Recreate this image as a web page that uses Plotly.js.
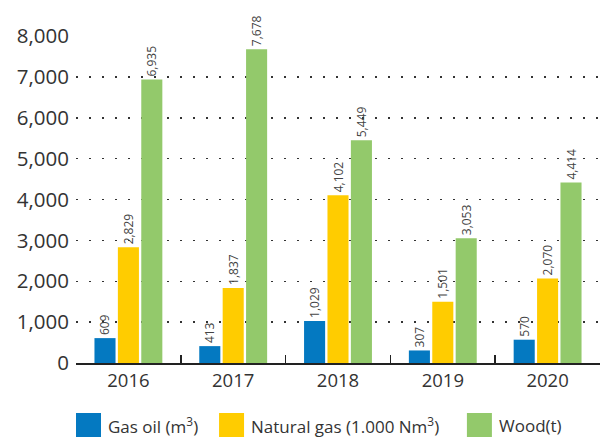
<!DOCTYPE html>
<html>
<head>
<meta charset="utf-8">
<script src="https://cdn.plot.ly/plotly-3.0.1.min.js"></script>
<style>html,body{margin:0;padding:0;background:#fff;}#chart{width:600px;height:440px;}</style>
</head>
<body>
<div id="chart"></div>
<script>
var years = ['2016', '2017', '2018', '2019', '2020'];
var gasOil = [609, 413, 1029, 307, 570];
var naturalGas = [2829, 1837, 4102, 1501, 2070];
var wood = [6935, 7678, 5449, 3053, 4414];
var seriesNames = ['Gas oil (m<sup>3</sup>)', 'Natural gas (1.000 Nm<sup>3</sup>)', 'Wood(t)'];
var colors = ['#0479C1', '#FFCC00', '#93C96B'];
var yTicks = [0, 1000, 2000, 3000, 4000, 5000, 6000, 7000, 8000];

var FONT = 'Open Sans, Noto Sans, DejaVu Sans, sans-serif';

function barTrace(vals, i) {
  return {
    type: 'bar', x: years, y: vals, name: seriesNames[i],
    marker: {color: colors[i], line: {width: 0}},
    texttemplate: '%{y:,}', textposition: 'outside', textangle: -90,
    textfont: {family: FONT, size: 12, color: '#444'},
    constraintext: 'none', cliponaxis: false, hoverinfo: 'skip'
  };
}
var data = [barTrace(gasOil, 0), barTrace(naturalGas, 1), barTrace(wood, 2)];

// legend drawn as paper-space shapes + annotations to match the large swatches
var plotW = 524, plotH = 327;
var legendX = [0.0, 0.273, 0.746];
var swW = 25 / plotW, shapes = [], annotations = [];
for (var i = 0; i < 3; i++) {
  shapes.push({type: 'rect', xref: 'paper', yref: 'paper',
    x0: legendX[i], x1: legendX[i] + swW, y0: -74 / plotH, y1: -50 / plotH,
    fillcolor: colors[i], line: {width: 0}});
  annotations.push({xref: 'paper', yref: 'paper', x: legendX[i] + swW + 0.01, y: -62 / plotH,
    xanchor: 'left', yanchor: 'middle', showarrow: false, text: seriesNames[i],
    font: {family: FONT, size: 17, color: '#333'}});
}

var layout = {
  width: 600, height: 440,
  margin: {l: 76, r: 0, t: 36, b: 77},
  paper_bgcolor: '#fff', plot_bgcolor: '#fff',
  barmode: 'group', bargap: 0.33, bargroupgap: 0.1,
  showlegend: false,
  font: {family: FONT, color: '#333'},
  xaxis: {
    type: 'category', showgrid: false, zeroline: false,
    showline: true, linecolor: '#222', linewidth: 2,
    ticks: 'inside', tickson: 'boundaries', ticklen: 8, tickwidth: 1.5, tickcolor: '#222',
    tickfont: {family: FONT, size: 18.5, color: '#333'}
  },
  yaxis: {
    range: [0, 8000], tickvals: yTicks, tickformat: ',d',
    showgrid: true, gridcolor: '#333', gridwidth: 1.5, griddash: '2px,11px',
    zeroline: false, showline: false, ticks: '',
    ticklabelstandoff: 6,
    tickfont: {family: FONT, size: 20.5, color: '#333'}
  },
  shapes: shapes,
  annotations: annotations
};

Plotly.newPlot('chart', data, layout, {displayModeBar: false, staticPlot: true});
</script>
</body>
</html>
